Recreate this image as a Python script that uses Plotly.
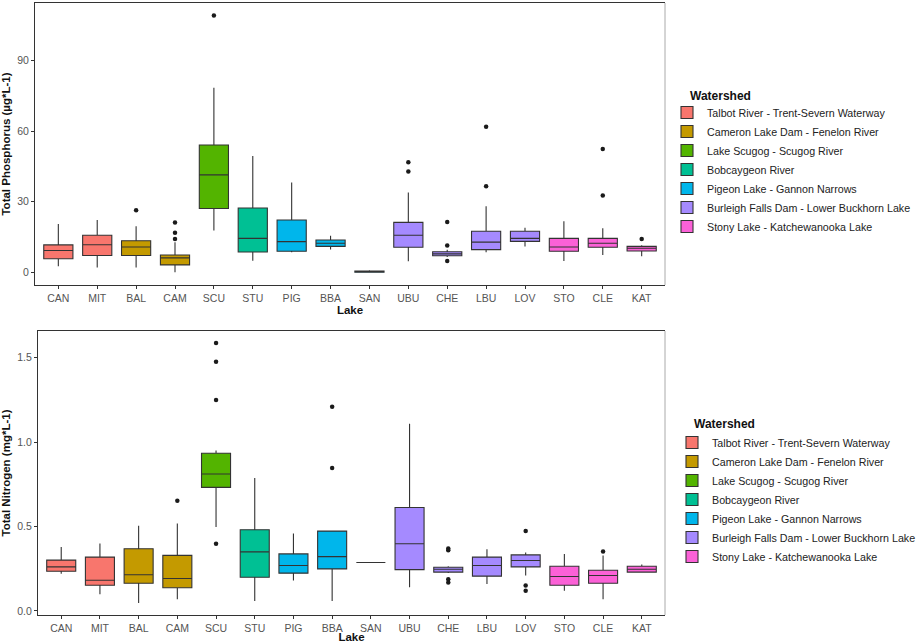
import plotly.graph_objects as go

# ---------------- data ----------------
lakes = ["CAN", "MIT", "BAL", "CAM", "SCU", "STU", "PIG", "BBA",
         "SAN", "UBU", "CHE", "LBU", "LOV", "STO", "CLE", "KAT"]

watershed_names = [
    "Talbot River - Trent-Severn Waterway",
    "Cameron Lake Dam - Fenelon River",
    "Lake Scugog - Scugog River",
    "Bobcaygeon River",
    "Pigeon Lake - Gannon Narrows",
    "Burleigh Falls Dam - Lower Buckhorn Lake",
    "Stony Lake - Katchewanooka Lake",
]
watershed_colors = ["#F8766D", "#C49A00", "#53B400", "#00C094",
                    "#00B6EB", "#A58AFF", "#FB61D7"]
lake_watershed = [0, 0, 1, 1, 2, 3, 4, 4, 4, 5, 5, 5, 5, 6, 6, 6]

# Total phosphorus (ug/L)
tp_lo = [2.5, 2.0, 2.0, 0.0, 17.7, 4.9, 8.5, 9.6, 0.0, 4.7, 6.5, 8.5, 10.9, 4.8, 7.3, 6.8]
tp_q1 = [5.7, 7.1, 7.1, 3.1, 27.1, 8.6, 8.9, 11.0, 0.0, 10.6, 7.0, 9.6, 13.1, 8.9, 10.6, 9.0]
tp_med = [9.2, 11.7, 10.7, 6.1, 41.4, 14.4, 13.0, 12.3, 0.2, 15.7, 7.8, 12.8, 14.4, 10.7, 12.3, 10.2]
tp_q3 = [11.6, 15.7, 13.4, 7.3, 54.1, 27.3, 22.2, 13.7, 0.5, 21.2, 8.7, 17.4, 17.4, 14.4, 14.4, 11.0]
tp_hi = [20.5, 22.2, 19.5, 12.7, 78.4, 49.4, 38.1, 15.5, 0.8, 33.9, 9.5, 28.0, 18.9, 21.7, 18.7, 11.5]
tp_out_lake = ["BAL", "CAM", "CAM", "CAM", "SCU", "UBU", "UBU",
               "CHE", "CHE", "CHE", "LBU", "LBU", "CLE", "CLE", "KAT"]
tp_out_val = [26.3, 21.1, 16.8, 14.1, 109.2, 46.8, 42.8,
              21.3, 11.3, 4.8, 61.9, 36.6, 52.4, 32.6, 14.1]

# Total nitrogen (mg/L)
tn_lo = [0.220, 0.099, 0.047, 0.069, 0.497, 0.059, 0.180, 0.059, 0.287, 0.140, 0.225, 0.160, 0.210, 0.119, 0.069, 0.230]
tn_q1 = [0.235, 0.152, 0.164, 0.137, 0.732, 0.200, 0.224, 0.249, 0.287, 0.245, 0.230, 0.206, 0.261, 0.152, 0.164, 0.230]
tn_med = [0.261, 0.182, 0.214, 0.192, 0.811, 0.350, 0.269, 0.322, 0.287, 0.398, 0.247, 0.269, 0.299, 0.204, 0.210, 0.247]
tn_q3 = [0.301, 0.319, 0.368, 0.329, 0.934, 0.481, 0.338, 0.473, 0.287, 0.613, 0.259, 0.319, 0.332, 0.265, 0.241, 0.265]
tn_hi = [0.378, 0.400, 0.505, 0.518, 0.950, 0.788, 0.459, 0.473, 0.287, 1.108, 0.265, 0.366, 0.346, 0.338, 0.329, 0.275]
tn_out_lake = ["CAM", "SCU", "SCU", "SCU", "SCU", "BBA", "BBA",
               "CHE", "CHE", "CHE", "CHE", "LOV", "LOV", "LOV", "CLE"]
tn_out_val = [0.653, 1.587, 1.476, 1.249, 0.398, 1.209, 0.847,
              0.370, 0.360, 0.188, 0.168, 0.473, 0.150, 0.119, 0.352]

legend_title = "Watershed"

# ---------------- figure ----------------
FONT = "Liberation Sans"
fig = go.Figure()


def add_panel(lo, q1, med, q3, hi, out_lake, out_val, xa, ya, legend_id):
    for w, wname in enumerate(watershed_names):
        idx = [i for i, lw in enumerate(lake_watershed) if lw == w]
        fig.add_trace(go.Box(
            x=[lakes[i] for i in idx],
            q1=[q1[i] for i in idx],
            median=[med[i] for i in idx],
            q3=[q3[i] for i in idx],
            lowerfence=[lo[i] for i in idx],
            upperfence=[hi[i] for i in idx],
            name=wname,
            fillcolor=watershed_colors[w],
            line=dict(color="#333333", width=1.1),
            whiskerwidth=0,
            width=0.75,
            boxpoints=False,
            xaxis=xa, yaxis=ya,
            legend=legend_id,
            legendgroup=legend_id + str(w),
        ))
    fig.add_trace(go.Scatter(
        x=out_lake, y=out_val, mode="markers",
        marker=dict(color="#1a1a1a", size=4.5),
        showlegend=False, xaxis=xa, yaxis=ya, hoverinfo="y",
    ))


add_panel(tp_lo, tp_q1, tp_med, tp_q3, tp_hi, tp_out_lake, tp_out_val, "x", "y", "legend")
add_panel(tn_lo, tn_q1, tn_med, tn_q3, tn_hi, tn_out_lake, tn_out_val, "x2", "y2", "legend2")

W, H = 924, 643
tickfont = dict(family=FONT, size=10.5, color="#555555")
titlefont = dict(family=FONT, size=11.5, color="#111111", weight="bold")

xcommon = dict(
    type="category", categoryorder="array", categoryarray=lakes,
    range=[-0.6, 15.6], showline=True, linecolor="#333333", linewidth=1,
    mirror=True, ticks="outside", ticklen=3, tickcolor="#333333",
    tickfont=tickfont, showgrid=False, zeroline=False, automargin=False,
)
ycommon = dict(
    showline=True, linecolor="#333333", linewidth=1,
    ticks="outside", ticklen=3, tickcolor="#333333",
    tickfont=tickfont, showgrid=False, zeroline=False, automargin=False,
)

legfont = dict(family=FONT, size=10.7, color="#222222")
legtitlefont = dict(family=FONT, size=12, color="#111111", weight="bold")

fig.update_layout(
    width=W, height=H,
    margin=dict(l=0, r=0, t=0, b=0),
    paper_bgcolor="white", plot_bgcolor="white",
    font=dict(family=FONT),
    boxmode="overlay",
    xaxis=dict(domain=[35 / W, 665 / W], anchor="y",
               title=dict(text="Lake", font=titlefont, standoff=0), **xcommon),
    xaxis2=dict(domain=[38 / W, 665 / W], anchor="y2",
                title=dict(text="Lake", font=titlefont, standoff=5), **xcommon),
    yaxis=dict(domain=[1 - 285 / H, 1 - 3 / H], anchor="x",
               range=[-5.45, 114.5], tickvals=[0, 30, 60, 90],
               title=dict(text="Total Phosphorus (µg*L-1)", font=titlefont, standoff=6),
               **ycommon),
    yaxis2=dict(domain=[1 - 615 / H, 1 - 331 / H], anchor="x2",
                range=[-0.024, 1.658], tickvals=[0, 0.5, 1.0, 1.5], tickformat=".1f",
                title=dict(text="Total Nitrogen (mg*L-1)", font=titlefont, standoff=6),
                **ycommon),
    legend=dict(
        x=667 / W, xanchor="left", y=1 - 98 / H, yanchor="top",
        font=legfont, bgcolor="rgba(0,0,0,0)", tracegroupgap=0,
    ),
    legend2=dict(
        x=672 / W, xanchor="left", y=1 - 428 / H, yanchor="top",
        font=legfont, bgcolor="rgba(0,0,0,0)", tracegroupgap=0,
    ),
    annotations=[
        dict(text=legend_title, xref="paper", yref="paper", x=688 / W, y=1 - 96 / H,
             xanchor="left", yanchor="middle", showarrow=False, font=legtitlefont),
        dict(text=legend_title, xref="paper", yref="paper", x=692 / W, y=1 - 424 / H,
             xanchor="left", yanchor="middle", showarrow=False, font=legtitlefont),
    ],
    shapes=[
        dict(type="line", xref="x domain", yref="y domain", x0=1, x1=1, y0=0, y1=1,
             line=dict(color="#aaaaaa", width=1)),
        dict(type="line", xref="x2 domain", yref="y2 domain", x0=1, x1=1, y0=0, y1=1,
             line=dict(color="#aaaaaa", width=1)),
    ],
)

fig.write_html("out.html")
